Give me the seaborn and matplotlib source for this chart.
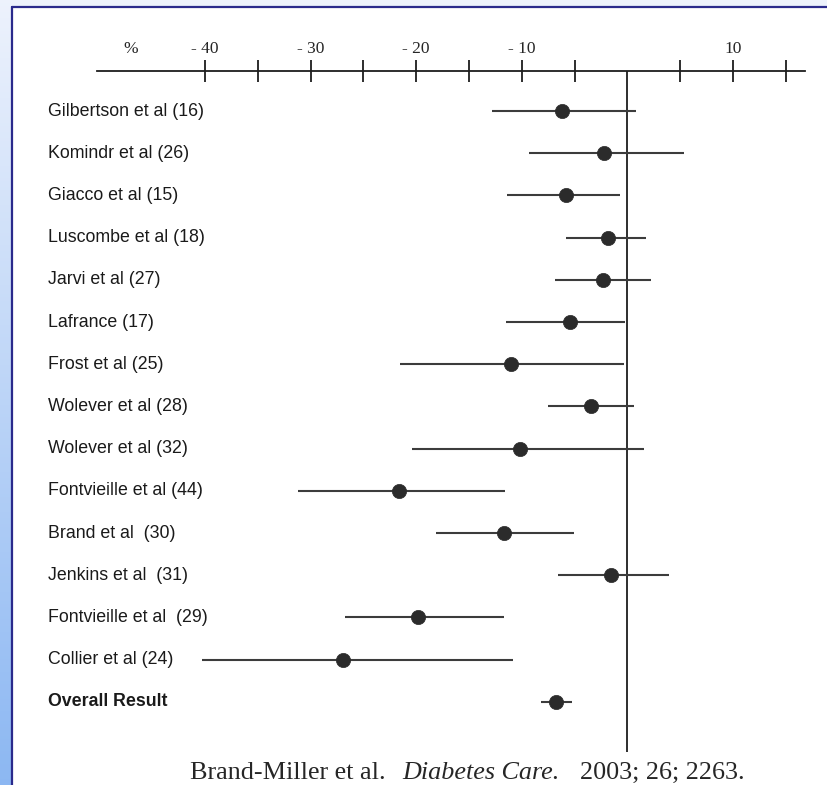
import numpy as np
import pandas as pd
import matplotlib
matplotlib.use("Agg")
import matplotlib.pyplot as plt
from matplotlib.lines import Line2D
import seaborn as sns

# study labels (top to bottom) and % change with 95% CI
studies = ["Gilbertson et al (16)", "Komindr et al (26)", "Giacco et al (15)",
           "Luscombe et al (18)", "Jarvi et al (27)", "Lafrance (17)",
           "Frost et al (25)", "Wolever et al (28)", "Wolever et al (32)",
           "Fontvieille et al (44)", "Brand et al  (30)", "Jenkins et al  (31)",
           "Fontvieille et al  (29)", "Collier et al (24)", "Overall Result"]
effect = [-6.2, -2.2, -5.8, -1.8, -2.3, -5.4, -11.0, -3.4, -10.2,
          -21.6, -11.7, -1.6, -19.8, -26.9, -6.8]
ci_low = [-12.8, -9.3, -11.4, -5.8, -6.9, -11.5, -21.5, -7.5, -20.4,
          -31.2, -18.1, -6.6, -26.7, -40.3, -8.2]
ci_high = [0.8, 5.4, -0.7, 1.8, 2.2, -0.2, -0.3, 0.6, 1.6,
           -11.6, -5.1, 3.9, -11.7, -10.8, -5.2]

major_ticks = [-47, -40, -30, -20, -10, 10]
major_labels = ["%", "- 40", "- 30", "- 20", "- 10", "10"]
minor_ticks = [-35, -25, -15, -5, 5, 15]

df = pd.DataFrame({"study": studies, "effect": effect,
                   "lo": ci_low, "hi": ci_high})
df["row"] = np.arange(len(df))

sns.set_style("white")
plt.rcParams["font.family"] = ["Liberation Sans", "DejaVu Sans"]

W, H = 828, 785
fig = plt.figure(figsize=(W / 100, H / 100), dpi=100)

# background: light blue gradient strip on the left / top
bg = fig.add_axes([0, 0, 1, 1])
bg.axis("off")
grad = np.linspace(0, 1, 256)[:, None]
top_c = np.array([0.93, 0.95, 0.99])
bot_c = np.array([0.55, 0.72, 0.95])
img = top_c[None, None, :] * (1 - grad[:, :, None]) + bot_c[None, None, :] * grad[:, :, None]
bg.imshow(img, extent=[0, 1, 0, 1], aspect="auto", origin="upper")
bg.set_xlim(0, 1)
bg.set_ylim(0, 1)

# main panel
px_per_unit = 10.56
zero_px = 627.4
row0_px, row_step = 111, 42.2
left_px, top_px = 12, 7
ax = fig.add_axes([left_px / W, 0, 1 - left_px / W, 1 - top_px / H])
ax.set_facecolor("white")

ax.hlines(df["row"], df["lo"], df["hi"], color="#3c3c3c", lw=1.5, zorder=2)
sns.scatterplot(data=df, x="effect", y="row", s=105, color="#2b2b2b",
                edgecolor="#2b2b2b", linewidth=0.5, zorder=3, ax=ax, legend=False)

axis_row = (71 - row0_px) / row_step
ax.vlines(0, axis_row, (752 - row0_px) / row_step, color="#1e1e1e", lw=1.3, zorder=1)

ax.set_xlim((left_px - zero_px) / px_per_unit, (W - zero_px) / px_per_unit)
ax.set_ylim((H - row0_px) / row_step, (top_px - row0_px) / row_step)

for s in ["left", "right", "bottom"]:
    ax.spines[s].set_visible(False)
ax.spines["top"].set_position(("data", axis_row))
ax.spines["top"].set_bounds(-50.2, 16.8)
ax.spines["top"].set_linewidth(1.3)
ax.spines["top"].set_color("#1e1e1e")
ax.xaxis.set_ticks_position("top")
ax.set_xticks(major_ticks)
ax.set_xticklabels(major_labels, family=["Liberation Serif", "DejaVu Serif"], fontsize=12.5)
ax.set_xticks(minor_ticks, minor=True)
ax.tick_params(axis="x", which="both", direction="inout", length=16, width=1.3,
               color="#1e1e1e", pad=2, top=True, bottom=False)
ax.xaxis.get_major_ticks()[0].tick2line.set_visible(False)
ax.set_yticks([])
ax.set_xlabel("")
ax.set_ylabel("")

lab_x = (48 - left_px) / (W - left_px)
for r, name in zip(df["row"], df["study"]):
    ax.text(lab_x, r, name, transform=ax.get_yaxis_transform(), ha="left", va="center",
            fontsize=12.8, color="#1a1a1a",
            fontweight="bold" if name == "Overall Result" else "normal")

# citation line
cap_y = 1 - 779 / H
serif = ["Liberation Serif", "DejaVu Serif"]
fig.text(190 / W, cap_y, "Brand-Miller et al.", family=serif, fontsize=18.8, va="baseline")
fig.text(402 / W, cap_y, "Diabetes Care.", family=serif, fontsize=18.8, style="italic", va="baseline")
fig.text(580 / W, cap_y, "2003; 26; 2263.", family=serif, fontsize=18.8, va="baseline")

# dark blue border of the panel
fig.add_artist(Line2D([left_px / W, left_px / W], [0, 1 - top_px / H], color="#2a2a8c", lw=1.6, zorder=10))
fig.add_artist(Line2D([left_px / W, 1], [1 - top_px / H, 1 - top_px / H], color="#2a2a8c", lw=1.6, zorder=10))

fig.savefig("out.png", dpi=100)
